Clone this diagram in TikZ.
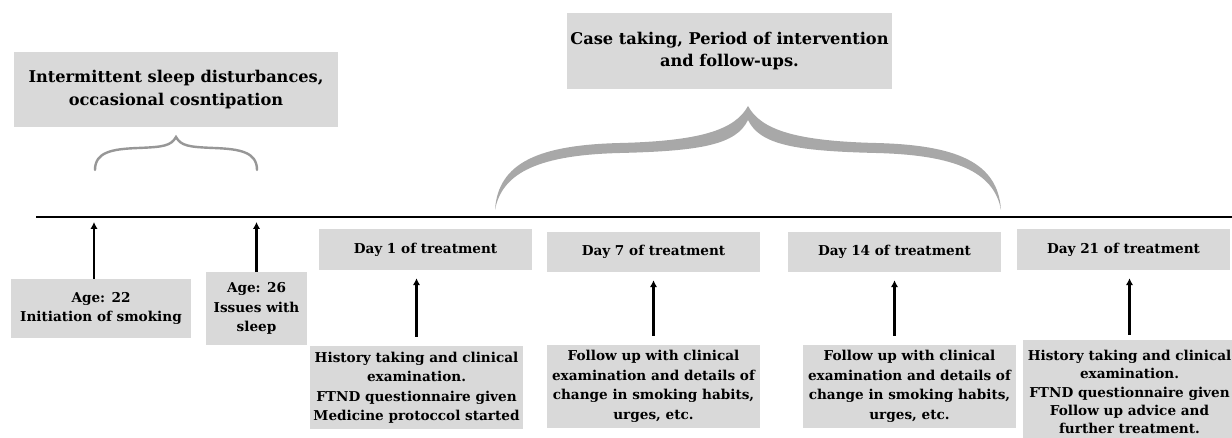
\documentclass[tikz,border=0pt]{standalone}
\usepackage{fontspec}
\setmainfont{DejaVu Serif}
\usetikzlibrary{arrows.meta,calc}
\definecolor{boxgray}{HTML}{D9D9D9}
\definecolor{bracegray}{HTML}{A8A8A8}
\begin{document}
\begin{tikzpicture}[x=1pt,y=-1pt,
  gbox/.style={fill=boxgray, inner sep=0pt, align=center, text=black},
  titlebox/.style={gbox, font=\fontsize{16.2}{22.5}\selectfont\bfseries},
  daybox/.style={gbox, font=\fontsize{13.6}{19.5}\selectfont\bfseries},
  arr/.style={line width=2.2pt, -{Latex[length=7pt,width=7.5pt]}},
  tline/.style={line width=2.4pt}]
\useasboundingbox (0,0) rectangle (1232,438);
\clip (0,0) rectangle (1232,438);
\fill[white] (0,0) rectangle (1232,438);

% timeline
\coordinate (L1) at (36,217);
\coordinate (L2) at (1240,217);
\draw[tline] (L1) -- (L2);

% top boxes
\node[titlebox, minimum width=324pt, minimum height=75pt] (t1) at (176,89.5)
  {Intermittent sleep disturbances,\\occasional cosntipation};
\node[titlebox, minimum width=325pt, minimum height=76pt] (t2) at (729.5,51)
  {Case taking, Period of intervention\\and follow-ups.};

% small brace
\draw[bracegray!90!black, line width=2.4pt, line cap=round]
  (95,170) .. controls (95,152) and (112,149) .. (138,148)
  .. controls (163,147) and (171,146) .. (176,137)
  .. controls (181,146) and (189,147) .. (214,148)
  .. controls (240,149) and (257,152) .. (257,170);

% big brace
\fill[bracegray]
  (495,210) .. controls (498,162) and (540,145) .. (620,143)
  .. controls (700,141) and (735,130) .. (748,106)
  .. controls (761,130) and (796,141) .. (876,143)
  .. controls (956,145) and (998,162) .. (1001,210)
  .. controls (994,172) and (956,155) .. (876,153)
  .. controls (796,151) and (760,145) .. (748,120)
  .. controls (736,145) and (700,151) .. (620,153)
  .. controls (540,155) and (502,172) .. (495,210) -- cycle;

% age boxes
\node[daybox, minimum width=180pt, minimum height=59pt] (a22) at (101,308.5)
  {Age: 22\\Initiation of smoking};
\node[daybox, minimum width=101pt, minimum height=73pt] (a26) at (256.5,308.5)
  {Age: 26\\Issues with\\sleep};
\draw[arr, shorten >=5pt] (a22.north -| 94,0) -- (L1 -| 94,0);
\draw[arr, shorten >=5pt] (a26.north) -- (a26.north |- L1);

% day boxes
\node[daybox, minimum width=213pt, minimum height=41pt] (d1) at (425.5,249.5) {Day 1 of treatment};
\node[daybox, minimum width=213pt, minimum height=40pt] (d7) at (653.5,252) {Day 7 of treatment};
\node[daybox, minimum width=213pt, minimum height=40pt] (d14) at (894.5,252) {Day 14 of treatment};
\node[daybox, minimum width=213pt, minimum height=41pt] (d21) at (1123.5,249.5) {Day 21 of treatment};

% bottom boxes
\node[daybox, minimum width=213pt, minimum height=83pt] (b1) at (416.5,387.5)
  {History taking and clinical\\examination.\\FTND questionnaire given\\Medicine protoccol started};
\node[daybox, minimum width=213pt, minimum height=83pt] (b7) at (653.5,386.5)
  {Follow up with clinical\\examination and details of\\change in smoking habits,\\urges, etc.};
\node[daybox, minimum width=213pt, minimum height=83pt] (b14) at (909.5,386.5)
  {Follow up with clinical\\examination and details of\\change in smoking habits,\\urges, etc.};
\node[daybox, font=\fontsize{13.6}{18.3}\selectfont\bfseries,
      minimum width=213pt, minimum height=104pt] (b21) at (1129.5,392)
  {History taking and clinical\\examination.\\FTND questionnaire given\\Follow up advice and\\further treatment.};

% arrows
\draw[arr, shorten <=9pt, shorten >=8pt] (b1.north) -- (b1.north |- d1.south);
\draw[arr, shorten <=9pt, shorten >=8pt] (b7.north) -- (d7.south);
\draw[arr, shorten <=9pt, shorten >=8pt] (b14.north -| d14.south) -- (d14.south);
\draw[arr, shorten <=5pt, shorten >=8pt] (b21.north) -- (b21.north |- d21.south);
\end{tikzpicture}
\end{document}
